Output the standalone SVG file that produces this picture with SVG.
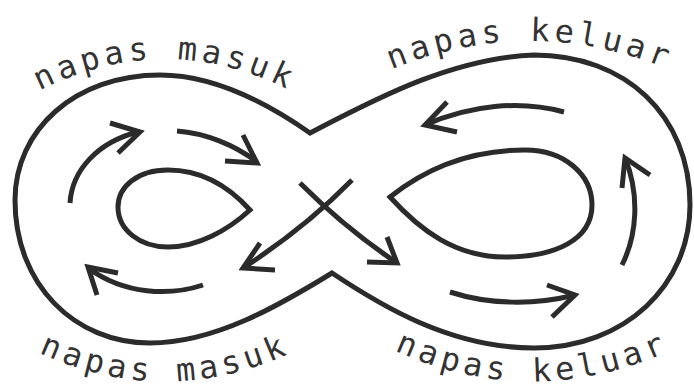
<svg xmlns="http://www.w3.org/2000/svg" width="694" height="390" viewBox="0 0 694 390">
<style>
.ln{fill:none;stroke:#2b2b2b;stroke-width:5;stroke-linecap:butt;stroke-linejoin:miter}
.lbl{font-family:"DejaVu Sans Mono","Liberation Mono",monospace;font-size:32px;letter-spacing:4.5px;fill:#333}
</style>
<defs>
<path id="pTL" d="M 35,93 Q 165,25 295,93"/>
<path id="pTR" d="M 385,72 Q 530,10 675,72"/>
<path id="pBL" d="M 35,351 Q 165,412 295,351"/>
<path id="pBR" d="M 385,346 Q 532,417 680,346"/>
</defs>
<rect width="694" height="390" fill="#fff"/>
<g id="outer">
<path class="ln" d="M 310,133 C 270,105 215,75 160,75 C 75,75 15,130 15,200 C 15,285 75,343 150,343 C 215,343 280,305 332,273 C 380,305 450,348 534,348 C 625,348 690,285 690,205 C 690,115 625,55 534,55 C 450,58 370,102 310,133 Z"/>
</g>
<g id="loop-left">
<path class="ln" d="M 250,210 C 232,190 205,170 168,170 C 137,170 118,187 118,207 C 118,230 140,247 168,247 C 198,247 228,230 250,210 Z"/>
</g>
<g id="loop-right">
<path class="ln" d="M 390,197 C 430,165 475,150 525,150 C 565,150 592,175 592,205 C 592,240 555,257 505,257 C 455,257 420,230 390,197 Z"/>
</g>
<g id="connectors">
<path class="ln" d="M 300,183 Q 345,228 397,263"/>
<path class="ln" d="M 367,262 L 397,263 L 387,237"/>
<path class="ln" d="M 352,180 Q 305,228 243,268"/>
<path class="ln" d="M 260,243 L 243,268 L 275,270"/>
<path class="ln" d="M 70,203 C 72,170 98,142 138,132"/>
<path class="ln" d="M 110,123 L 140,132 L 118,153"/>
<path class="ln" d="M 177,131 C 205,133 235,145 257,162"/>
<path class="ln" d="M 243,135 L 257,163 L 225,161"/>
<path class="ln" d="M 203,285 C 170,296 125,295 88,268"/>
<path class="ln" d="M 118,273 L 88,267 L 97,295"/>
<path class="ln" d="M 564,112 C 520,100 470,105 425,125"/>
<path class="ln" d="M 447,102 L 425,125 L 457,132"/>
<path class="ln" d="M 622,265 C 637,235 640,195 625,158"/>
<path class="ln" d="M 622,188 L 625,158 L 650,175"/>
<path class="ln" d="M 450,292 C 490,305 535,305 575,295"/>
<path class="ln" d="M 547,285 L 575,295 L 552,317"/>
</g>
<g id="labels">
<text class="lbl" text-anchor="middle"><textPath href="#pTL" startOffset="50%">napas masuk</textPath></text>
<text class="lbl" text-anchor="middle"><textPath href="#pTR" startOffset="50%">napas keluar</textPath></text>
<text class="lbl" text-anchor="middle"><textPath href="#pBL" startOffset="50%">napas masuk</textPath></text>
<text class="lbl" text-anchor="middle"><textPath href="#pBR" startOffset="50%">napas keluar</textPath></text>
</g>
</svg>
